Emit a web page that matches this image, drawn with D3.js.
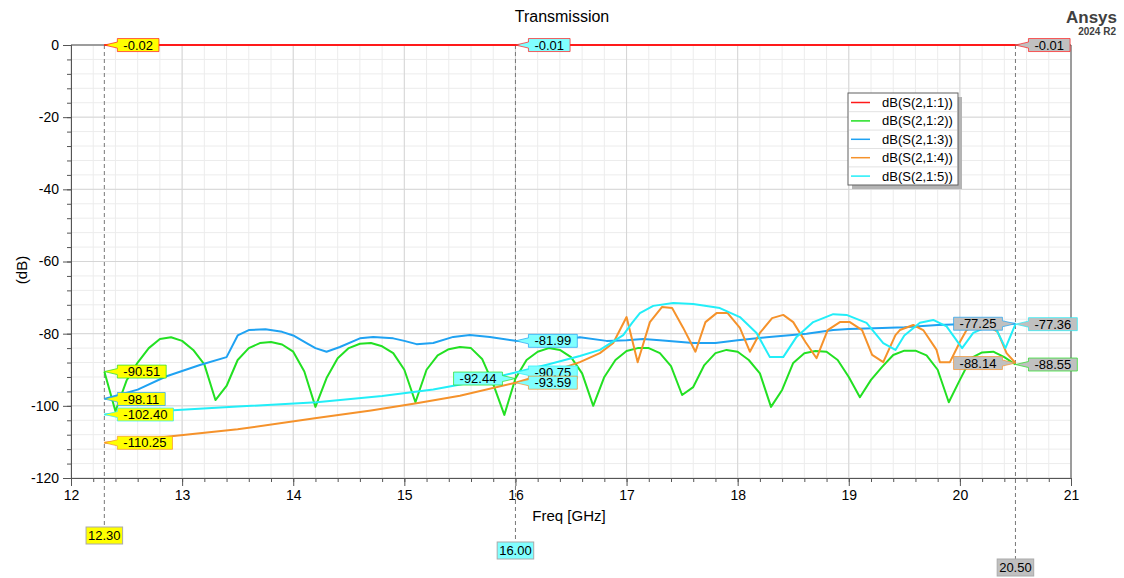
<!DOCTYPE html>
<html>
<head>
<meta charset="utf-8">
<script src="https://cdn.jsdelivr.net/npm/d3@7"></script>
<style>
  body { margin: 0; background: #fff; }
  svg { font-family: "Liberation Sans", Arial, sans-serif; }
</style>
</head>
<body>
<svg id="chart" width="1124" height="578"></svg>
<script>
// ---- data ----
const traceNames = ['dB(S(2,1:1))', 'dB(S(2,1:2))', 'dB(S(2,1:3))', 'dB(S(2,1:4))', 'dB(S(2,1:5))']

const s1Freq = [12.3, 16.0, 20.5]
const s1dB = [-0.02, -0.01, -0.01]

const s2Freq = [12.3, 12.4, 12.5, 12.6, 12.7, 12.8, 12.9, 13.0, 13.1, 13.2, 13.3, 13.4, 13.5, 13.6, 13.7, 13.8, 13.9, 14.0,
  14.1, 14.2, 14.3, 14.4, 14.5, 14.6, 14.7, 14.8, 14.9, 15.0, 15.1, 15.2, 15.3, 15.4, 15.5, 15.6, 15.7, 15.8, 15.9, 16.0,
  16.1, 16.2, 16.3, 16.4, 16.5, 16.6, 16.7, 16.8, 16.9, 17.0, 17.1, 17.2, 17.3, 17.4, 17.5, 17.6, 17.7, 17.8, 17.9, 18.0,
  18.1, 18.2, 18.3, 18.4, 18.5, 18.6, 18.7, 18.8, 18.9, 19.0, 19.1, 19.2, 19.3, 19.4, 19.5, 19.6, 19.7, 19.8, 19.9, 20.0,
  20.1, 20.2, 20.3, 20.4, 20.5]
const s2dB = [-90.51, -101.5, -93, -88, -84, -81.5, -81, -82, -84.5, -88.5, -98.4, -94.5, -87.3, -84, -82.6, -82.3, -83, -85,
  -90.5, -100.3, -92.3, -86.8, -84, -82.8, -82.6, -83.5, -85.4, -90, -99, -90, -86, -84.3, -83.7, -84, -87, -94, -102.5, -92.44,
  -87.3, -85, -84, -84.5, -86.5, -91, -100, -92, -87.3, -84.8, -84, -84, -85.4, -89, -97, -94.8, -88.7, -85.4, -84.5, -85,
  -87.3, -91, -100.3, -95.6, -88.1, -85.4, -84.8, -85, -87.3, -92, -97.6, -92.8, -89.2, -85.9, -84.7, -84.7, -86, -90, -99, -92.8,
  -86.8, -85.2, -85, -86.5, -88.55]

const s3Freq = [12.3, 12.6, 12.86, 13.16, 13.4, 13.5, 13.6, 13.75, 13.9, 14.0, 14.12, 14.2, 14.3, 14.42, 14.6, 14.72, 14.9,
  15.0, 15.11, 15.26, 15.44, 15.59, 15.77, 16.0, 16.3, 16.58, 16.82, 17.0, 17.15, 17.3, 17.6, 17.8, 18.0, 18.26, 18.62,
  18.86, 19.0, 19.3, 19.5, 19.8, 20.0, 20.3, 20.5]
const s3dB = [-98.11, -95.5, -91.8, -88.7, -86.5, -80.5, -79, -78.8, -79.5, -80.5, -82.6, -84, -85, -83.7, -81.3, -80.9, -81.3,
  -82, -82.9, -82.6, -80.9, -80.4, -80.9, -81.99, -82.3, -81, -82, -81.8, -81.5, -81.8, -82.6, -82.6, -81.8, -81, -80,
  -79, -78.7, -78.4, -78.2, -77.6, -77.4, -77.2, -77.25]

const s4Freq = [12.3, 12.86, 13.5, 14.21, 14.7, 15.11, 15.5, 16.0, 16.3, 16.58, 16.76, 16.88, 17.0, 17.1, 17.21, 17.32, 17.41,
  17.51, 17.62, 17.71, 17.81, 17.91, 18.02, 18.11, 18.2, 18.31, 18.41, 18.5, 18.61, 18.71, 18.81, 18.92, 19.01, 19.12,
  19.21, 19.31, 19.42, 19.46, 19.58, 19.67, 19.79, 19.82, 19.91, 20.0, 20.06, 20.15, 20.24, 20.34, 20.42, 20.5]
const s4dB = [-110.25, -108.6, -106.5, -103.4, -101.3, -99.3, -97.2, -93.59, -90.8, -87.9, -85.4, -82.6, -75.4, -87.9, -76.8, -72.6, -72.9,
  -78.4, -85, -76.8, -74.3, -74.3, -78.4, -85, -79.8, -75.7, -74.8, -76.8, -82.3, -86.8, -79, -76.8, -76.8, -79,
  -85.9, -87.9, -80.4, -79, -77.6, -79, -84.5, -87.9, -87.9, -82.3, -79, -77.6, -77.6, -79.5, -85.4, -88.14]

const s5Freq = [12.3, 12.92, 13.5, 14.21, 14.8, 15.26, 15.7, 16.0, 16.3, 16.58, 16.76, 16.97, 17.05, 17.12, 17.24, 17.42, 17.6,
  17.84, 18.02, 18.17, 18.29, 18.41, 18.53, 18.68, 18.86, 18.98, 19.16, 19.31, 19.42, 19.5, 19.64, 19.76, 19.88, 20.02,
  20.12, 20.24, 20.33, 20.41, 20.5]
const s5dB = [-102.40, -101.2, -100.2, -99, -97.3, -95.5, -93, -90.75, -88.5, -86.2, -84.5, -80.4, -77, -74.3, -72.3, -71.5, -71.8,
  -72.9, -75.4, -79.8, -86.5, -86.5, -80.9, -76.8, -74.6, -74.8, -77, -82.6, -84.5, -80.5, -77, -76.2, -78, -84,
  -79.8, -78.2, -79, -84, -77.36]

const markerFreqs = [12.3, 16.0, 20.5]
const markerNames = ['12.30', '16.00', '20.50']
// values per marker, in trace order S(2,1:1) .. S(2,1:5)
const marker1Values = [-0.02, -90.51, -98.11, -110.25, -102.40]
const marker2Values = [-0.01, -92.44, -81.99, -93.59, -90.75]
const marker3Values = [-0.01, -88.55, -77.25, -88.14, -77.36]

const xTickValues = [12, 13, 14, 15, 16, 17, 18, 19, 20, 21]
const yTickValues = [0, -20, -40, -60, -80, -100, -120]

// ---- styles ----
const traceColors = ['#ff1a1a', '#22e022', '#1fa2f2', '#f5922b', '#22eef8']
const markerFills = ['#ffff00', '#80ffff', '#c0c0c0']

const svg = d3.select('#chart')

const x = d3.scaleLinear().domain([12, 21]).range([71, 1071])
const y = d3.scaleLinear().domain([-120, 0]).range([478, 45])

const traces = [
  s1Freq.map((f, i) => [f, s1dB[i]]),
  s2Freq.map((f, i) => [f, s2dB[i]]),
  s3Freq.map((f, i) => [f, s3dB[i]]),
  s4Freq.map((f, i) => [f, s4dB[i]]),
  s5Freq.map((f, i) => [f, s5dB[i]])
]
const markerValues = [marker1Values, marker2Values, marker3Values]

// grid
const minorX = d3.range(12, 21.001, 0.2)
const minorY = d3.range(-120, 0.001, 4)
const grid = svg.append('g')
grid.selectAll('.gx').data(minorX).enter().append('line')
  .attr('x1', d => x(d)).attr('x2', d => x(d))
  .attr('y1', y(0)).attr('y2', y(-120))
  .attr('stroke', '#ececec')
grid.selectAll('.gy').data(minorY).enter().append('line')
  .attr('x1', x(12)).attr('x2', x(21))
  .attr('y1', d => y(d)).attr('y2', d => y(d))
  .attr('stroke', '#ececec')
grid.selectAll('.gxm').data(xTickValues).enter().append('line')
  .attr('x1', d => x(d)).attr('x2', d => x(d))
  .attr('y1', y(0)).attr('y2', y(-120))
  .attr('stroke', '#d6d6d6')
grid.selectAll('.gym').data(yTickValues).enter().append('line')
  .attr('x1', x(12)).attr('x2', x(21))
  .attr('y1', d => y(d)).attr('y2', d => y(d))
  .attr('stroke', '#d6d6d6')

// axes
const plainNum = d => String(d)
const xMinorAxis = d3.axisBottom(x).tickValues(minorX).tickSize(4).tickFormat('')
const xAxis = d3.axisBottom(x).tickValues(xTickValues).tickSize(8).tickPadding(4).tickFormat(plainNum)
const yMinorAxis = d3.axisLeft(y).tickValues(minorY).tickSize(4).tickFormat('')
const yAxis = d3.axisLeft(y).tickValues(yTickValues).tickSize(8).tickPadding(4).tickFormat(plainNum)

function styleAxis(g) {
  g.select('.domain').attr('stroke', '#555')
  g.selectAll('.tick line').attr('stroke', '#555')
  g.selectAll('.tick text').attr('fill', '#000').attr('font-size', 14)
    .attr('font-family', '"Liberation Sans", Arial, sans-serif')
}
svg.append('g').attr('transform', `translate(0,${y(-120)})`).call(xMinorAxis).call(styleAxis)
svg.append('g').attr('transform', `translate(0,${y(-120)})`).call(xAxis).call(styleAxis)
svg.append('g').attr('transform', `translate(${x(12)},0)`).call(yMinorAxis).call(styleAxis)
svg.append('g').attr('transform', `translate(${x(12)},0)`).call(yAxis).call(styleAxis)

// right / top frame
svg.append('line').attr('x1', x(21)).attr('x2', x(21)).attr('y1', y(0)).attr('y2', y(-120)).attr('stroke', '#555')
svg.append('line').attr('x1', x(12)).attr('x2', x(21)).attr('y1', y(0)).attr('y2', y(0)).attr('stroke', '#555')

// titles
svg.append('text').attr('x', 562).attr('y', 22).attr('text-anchor', 'middle')
  .attr('font-size', 16).text('Transmission')
svg.append('text').attr('x', 569).attr('y', 521).attr('text-anchor', 'middle')
  .attr('font-size', 15).text('Freq [GHz]')
svg.append('text').attr('transform', 'translate(27,270) rotate(-90)').attr('text-anchor', 'middle')
  .attr('font-size', 15).text('(dB)')
svg.append('text').attr('x', 1117).attr('y', 23).attr('text-anchor', 'end')
  .attr('font-size', 17).attr('font-weight', 'bold').attr('fill', '#404040').text('Ansys')
svg.append('text').attr('x', 1116).attr('y', 35).attr('text-anchor', 'end')
  .attr('font-size', 10).attr('font-weight', 'bold').attr('fill', '#404040').text('2024 R2')

// marker dashed lines + frequency tags under the axis
const tagTops = [527, 542, 559]
markerFreqs.forEach((f, i) => {
  svg.append('line')
    .attr('x1', x(f)).attr('x2', x(f))
    .attr('y1', y(0)).attr('y2', tagTops[i])
    .attr('stroke', '#777').attr('stroke-dasharray', '4,3')
})

// traces
const line = d3.line().x(d => x(d[0])).y(d => y(d[1]))
svg.append('g').selectAll('path')
  .data(traces)
  .enter()
  .append('path')
  .attr('d', line)
  .attr('fill', 'none')
  .attr('stroke', (d, i) => traceColors[i])
  .attr('stroke-width', 2)
  .attr('stroke-linejoin', 'round')

// frequency tags
markerFreqs.forEach((f, i) => {
  const tg = svg.append('g')
  const t = tg.append('text').attr('x', x(f)).attr('y', tagTops[i] + 13)
    .attr('text-anchor', 'middle').attr('font-size', 13).text(markerNames[i])
  const tw = t.node().getComputedTextLength()
  tg.insert('rect', 'text')
    .attr('x', x(f) - tw / 2 - 2).attr('y', tagTops[i])
    .attr('width', tw + 4).attr('height', 17)
    .attr('fill', markerFills[i]).attr('stroke', '#aaa')
})

// flag labels on the traces
// which labels sit left of the marker line (marker index -> trace indices)
const leftSide = { 1: [1], 2: [2, 3] }

function flag(px, py, label, fill, stroke, left) {
  const g = svg.append('g')
  const t = g.append('text').attr('font-size', 13).attr('y', py + 4.5).text(label)
  const tw = t.node().getComputedTextLength()
  const w = tw + 12, h = 13
  const top = py - h / 2, bot = py + h / 2
  let bx, p
  if (!left) {
    bx = px + 13
    p = `M${px},${py} L${bx},${py - 3} L${bx},${top} L${bx + w},${top} L${bx + w},${bot} L${bx},${bot} L${bx},${py + 3} Z`
  } else {
    bx = px - 13 - w
    p = `M${px},${py} L${bx + w},${py - 3} L${bx + w},${top} L${bx},${top} L${bx},${bot} L${bx + w},${bot} L${bx + w},${py + 3} Z`
  }
  t.attr('x', bx + 6)
  g.insert('path', 'text').attr('d', p)
    .attr('fill', fill).attr('stroke', stroke).attr('stroke-opacity', 0.7)
}

markerFreqs.forEach((f, m) => {
  const order = [0, 1, 2, 4, 3]
  order.forEach(ti => {
    const v = markerValues[m][ti]
    const left = (leftSide[m] || []).includes(ti)
    flag(x(f), y(v), v.toFixed(2), markerFills[m], traceColors[ti], left)
  })
})

// legend
const lg = svg.append('g').attr('transform', 'translate(848,93)')
lg.append('rect').attr('x', 4).attr('y', 4).attr('width', 110).attr('height', 92).attr('fill', '#b4b4b4')
lg.append('rect').attr('x', 0).attr('y', 0).attr('width', 110).attr('height', 92)
  .attr('fill', '#fff').attr('stroke', '#606060')
const rowH = 18.4
traceNames.forEach((n, i) => {
  const cy = 9.5 + i * rowH
  if (i > 0) {
    lg.append('line').attr('x1', 1).attr('x2', 109).attr('y1', cy - rowH / 2).attr('y2', cy - rowH / 2)
      .attr('stroke', '#e2e2e2')
  }
  lg.append('line').attr('x1', 3).attr('x2', 22).attr('y1', cy).attr('y2', cy)
    .attr('stroke', traceColors[i]).attr('stroke-width', 1.5)
  lg.append('text').attr('x', 34).attr('y', cy + 4.5).attr('font-size', 13).text(n)
})
</script>
</body>
</html>
